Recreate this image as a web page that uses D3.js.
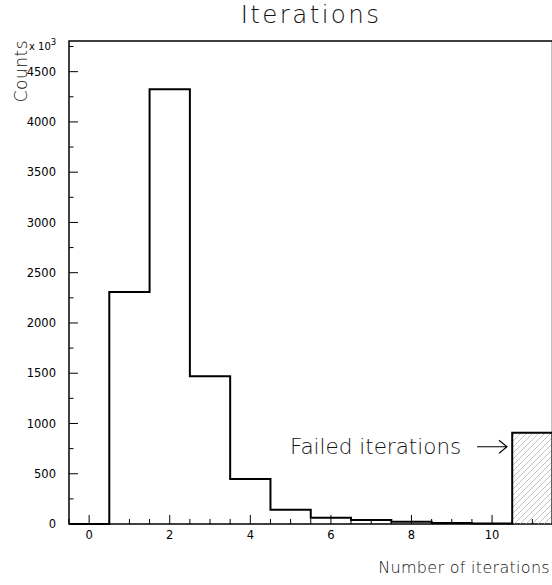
<!DOCTYPE html>
<html>
<head>
<meta charset="utf-8">
<script src="https://cdn.jsdelivr.net/npm/d3@7"></script>
<style>
  html, body { margin: 0; padding: 0; background: #fff; }
  svg { display: block; }
  .thin { font-family: "DejaVu Sans", sans-serif; font-weight: 200; fill: #111; }
  .num { font-family: "DejaVu Sans", sans-serif; fill: #000; }
</style>
</head>
<body>
<script>
// Histogram of the number of solver iterations; the last bin collects failed runs.
const binCenters = [0, 1, 2, 3, 4, 5, 6, 7, 8, 9, 10, 11];
const binCounts  = [0, 2309, 4324, 1471, 447, 142, 63, 40, 23, 10, 6, 908];
const failedBin  = 11;
const xTicks = [0, 2, 4, 6, 8, 10];
const yTicks = [0, 500, 1000, 1500, 2000, 2500, 3000, 3500, 4000, 4500];

const W = 552, H = 585;
const frame = { left: 69, top: 41, right: 552.5, bottom: 524 };

const svg = d3.select("body").append("svg").attr("width", W).attr("height", H);

const x = d3.scaleLinear().domain([-0.5, 11.5]).range([frame.left, frame.right]);
const y = d3.scaleLinear().domain([0, 4805]).range([frame.bottom, frame.top]);

// hatch pattern for the failed-iterations bin
const defs = svg.append("defs");
const pat = defs.append("pattern")
  .attr("id", "hatch").attr("patternUnits", "userSpaceOnUse")
  .attr("width", 6).attr("height", 6);
pat.append("path").attr("d", "M-1,1 L1,-1 M0,6 L6,0 M5,7 L7,5")
  .attr("stroke", "#a8a8a8").attr("stroke-width", 0.7);

// frame
svg.append("rect")
  .attr("x", frame.left).attr("y", frame.top)
  .attr("width", frame.right - frame.left).attr("height", frame.bottom - frame.top)
  .attr("fill", "none").attr("stroke", "#000").attr("stroke-width", 1.5);

// failed bin fill
svg.append("rect")
  .attr("x", x(failedBin - 0.5)).attr("y", y(binCounts[failedBin]))
  .attr("width", x(failedBin + 0.5) - x(failedBin - 0.5))
  .attr("height", y(0) - y(binCounts[failedBin]))
  .attr("fill", "url(#hatch)");

// histogram outline (step line)
const pts = [];
binCenters.forEach((c, i) => {
  pts.push([x(c - 0.5), y(binCounts[i])]);
  pts.push([x(c + 0.5), y(binCounts[i])]);
});
pts.unshift([x(-0.5), y(0)]);
pts.push([x(11.5), y(0)]);
svg.append("path")
  .attr("d", d3.line()(pts))
  .attr("fill", "none").attr("stroke", "#000").attr("stroke-width", 2)
  .attr("stroke-linejoin", "miter");

// x axis ticks (inside the frame)
const xMinor = d3.range(-0.5, 11.51, 0.5);
svg.append("g").selectAll("line").data(xMinor).join("line")
  .attr("x1", d => x(d)).attr("x2", d => x(d))
  .attr("y1", frame.bottom).attr("y2", d => frame.bottom - (xTicks.includes(d) ? 9 : 5))
  .attr("stroke", "#000").attr("stroke-width", 1);
svg.append("g").selectAll("text").data(xTicks).join("text")
  .attr("class", "num")
  .attr("x", d => x(d)).attr("y", frame.bottom + 14.5)
  .attr("text-anchor", "middle").attr("font-size", 11.5).text(d => d);

// y axis ticks
const yMinor = d3.range(250, 4800, 250);
svg.append("g").selectAll("line").data(yMinor).join("line")
  .attr("x1", frame.left).attr("x2", d => frame.left + (d % 500 === 0 ? 9 : 4.5))
  .attr("y1", d => y(d)).attr("y2", d => y(d))
  .attr("stroke", "#000").attr("stroke-width", 1);
svg.append("g").selectAll("text").data(yTicks).join("text")
  .attr("class", "num")
  .attr("x", frame.left - 13).attr("y", d => y(d) + 4.2)
  .attr("text-anchor", "end").attr("font-size", 11.5).text(d => d);

// exponent marker
const exp = svg.append("text").attr("class", "num").attr("x", 29).attr("y", 50)
  .attr("font-size", 10);
exp.append("tspan").text("x 10");
exp.append("tspan").attr("dy", -5).attr("font-size", 8.5).text("3");

// title
svg.append("text").attr("class", "thin")
  .attr("x", 311).attr("y", 23).attr("text-anchor", "middle")
  .attr("font-size", 24.5).attr("letter-spacing", 2.4).text("Iterations");

// axis titles
svg.append("text").attr("class", "thin")
  .attr("x", 550).attr("y", 573).attr("text-anchor", "end")
  .attr("font-size", 16).attr("letter-spacing", 0.3).text("Number of iterations");
svg.append("text").attr("class", "thin")
  .attr("transform", "translate(27,40) rotate(-90)")
  .attr("text-anchor", "end").attr("font-size", 17).attr("letter-spacing", 0.5).text("Counts");

// annotation for the failed bin
svg.append("text").attr("class", "thin")
  .attr("x", 290).attr("y", 454.3)
  .attr("font-size", 21.5).text("Failed iterations");
const ay = 446.7;
svg.append("path")
  .attr("d", `M477,${ay} L507,${ay} M499,${ay - 6.5} L507,${ay} L499,${ay + 6.5}`)
  .attr("fill", "none").attr("stroke", "#000").attr("stroke-width", 1.1);
</script>
</body>
</html>
